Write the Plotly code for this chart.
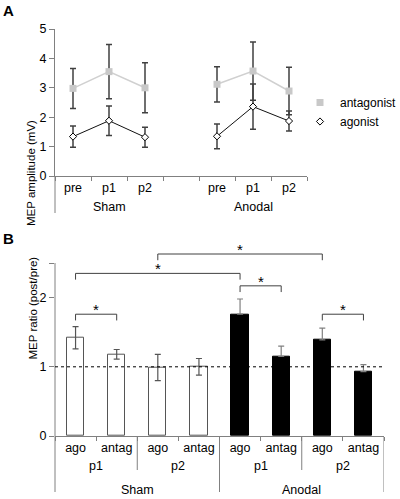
import plotly.graph_objects as go

# ---------------- data ----------------
# Panel A
a_time = ["pre", "p1", "p2"]
a_groups = ["Sham", "Anodal"]
antag_sham = [2.98, 3.55, 3.00]
antag_sham_err = [0.68, 0.92, 0.85]
antag_anod = [3.12, 3.57, 2.89]
antag_anod_err = [0.60, 0.99, 0.81]
ago_sham = [1.34, 1.88, 1.32]
ago_sham_err = [0.36, 0.50, 0.34]
ago_anod = [1.35, 2.36, 1.87]
ago_anod_err = [0.42, 0.77, 0.34]

# Panel B
b_muscle = ["ago", "antag"]
b_time = ["p1", "p2"]
b_groups = ["Sham", "Anodal"]
ratio_sham = [1.42, 1.18, 0.99, 1.00]
ratio_sham_err = [0.16, 0.07, 0.19, 0.12]
ratio_anod = [1.76, 1.15, 1.39, 0.93]
ratio_anod_err = [0.22, 0.15, 0.17, 0.10]

# significance brackets (bar index left, bar index right, height)
sig_left = [0, 0, 2, 4, 6]
sig_right = [1, 4, 6, 5, 7]
sig_height = [1.76, 2.35, 2.63, 2.17, 1.76]

W, H = 400, 499
FONT = "Liberation Sans, Arial, sans-serif"
AXC = "#808080"


def px(x):
    return x / W


def py(y):
    return 1 - y / H


fig = go.Figure()

SQ = dict(symbol="square", size=7, color="#c8c8c8")
DM = dict(symbol="diamond", size=5.5, color="white", line=dict(color="black", width=1))

# ---------------- Panel A ----------------
xs_sham = [0, 1, 2]
xs_anod = [4, 5, 6]
for xs, ys, es in [(xs_sham, antag_sham, antag_sham_err), (xs_anod, antag_anod, antag_anod_err)]:
    fig.add_trace(go.Scatter(
        x=xs, y=ys, mode="lines+markers", showlegend=False,
        line=dict(color="#d0d0d0", width=1.5), marker=SQ,
        error_y=dict(type="data", array=es, color="#404040", thickness=1.5, width=3),
        xaxis="x", yaxis="y"))
for xs, ys, es in [(xs_sham, ago_sham, ago_sham_err), (xs_anod, ago_anod, ago_anod_err)]:
    fig.add_trace(go.Scatter(
        x=xs, y=ys, mode="lines+markers", showlegend=False,
        line=dict(color="#111111", width=1), marker=DM,
        error_y=dict(type="data", array=es, color="#404040", thickness=1.5, width=3),
        xaxis="x", yaxis="y"))

# legend-only entries
fig.add_trace(go.Scatter(x=[None], y=[None], mode="markers", name="antagonist",
                         marker=SQ, xaxis="x", yaxis="y"))
fig.add_trace(go.Scatter(x=[None], y=[None], mode="markers", name="agonist",
                         marker=DM, xaxis="x", yaxis="y"))

# ---------------- Panel B ----------------
bx_sham = [0, 1, 2, 3]
bx_anod = [4, 5, 6, 7]
fig.add_trace(go.Bar(
    x=bx_sham, y=ratio_sham, width=0.42, showlegend=False,
    marker=dict(color="white", line=dict(color="#555555", width=1)),
    error_y=dict(type="data", array=ratio_sham_err, color="#555555", thickness=1.2, width=3),
    xaxis="x2", yaxis="y2"))
fig.add_trace(go.Bar(
    x=bx_anod, y=ratio_anod, width=0.42, showlegend=False,
    marker=dict(color="black", line=dict(color="black", width=1)),
    error_y=dict(type="data", symmetric=False, array=ratio_anod_err,
                 arrayminus=[0] * len(ratio_anod), color="#808080", thickness=1.2, width=3),
    xaxis="x2", yaxis="y2"))

leg = 0.09
for l, r, h in zip(sig_left, sig_right, sig_height):
    fig.add_trace(go.Scatter(
        x=[l, l, r, r], y=[h - leg, h, h, h - leg], mode="lines", showlegend=False,
        line=dict(color="#404040", width=1), xaxis="x2", yaxis="y2", hoverinfo="skip"))
    fig.add_annotation(x=(l + r) / 2, y=h, xref="x2", yref="y2", text="*",
                       showarrow=False, yanchor="bottom", yshift=-6,
                       font=dict(size=15, color="black", family=FONT))

# ---------------- layout ----------------
A_top, A_bot = 29, 176
B_zero, B_one = 436, 366.8
B_unit = B_zero - B_one
B_rmax = 2.75
B_top = B_zero - B_rmax * B_unit

fig.update_layout(
    width=W, height=H, margin=dict(l=0, r=0, t=0, b=0, autoexpand=False),
    paper_bgcolor="white", plot_bgcolor="white",
    font=dict(family=FONT, size=12.5, color="black"),
    bargap=0,
    legend=dict(x=px(300), y=py(88), xanchor="left", yanchor="top",
                xref="container", yref="container",
                font=dict(size=12), itemwidth=30, tracegroupgap=0,
                bgcolor="rgba(0,0,0,0)"),
    xaxis=dict(domain=[px(55), px(307)], range=[-0.5, 6.5],
               tickvals=xs_sham + xs_anod, ticktext=a_time + a_time,
               ticks="", showline=True, linecolor=AXC, linewidth=1,
               showgrid=False, zeroline=False, automargin=False,
               minor=dict(tick0=0.5, dtick=1, ticks="outside", ticklen=4, tickcolor=AXC),
               anchor="y"),
    yaxis=dict(domain=[py(A_bot), py(A_top)], range=[0, 5], tickvals=[0, 1, 2, 3, 4, 5],
               ticks="outside", ticklen=5, tickcolor=AXC, showline=True, linecolor=AXC,
               showgrid=False, zeroline=False, anchor="x", automargin=False),
    xaxis2=dict(domain=[px(55), px(384)], range=[-0.5, 7.5],
                tickvals=bx_sham + bx_anod, ticktext=b_muscle * 4,
                ticks="", showline=True, linecolor=AXC, linewidth=1,
                showgrid=False, zeroline=False, automargin=False,
                minor=dict(tick0=0.5, dtick=1, ticks="outside", ticklen=4, tickcolor=AXC),
                anchor="y2"),
    yaxis2=dict(domain=[py(B_zero), py(B_top)], range=[0, B_rmax],
                tickvals=[0, 1, 2, 2.5], ticktext=["0", "1", "2", ""],
                ticks="outside", ticklen=5, tickcolor=AXC, showline=False,
                showgrid=False, zeroline=False, anchor="x2", automargin=False),
)

# axis decorations panel A
fig.add_shape(type="line", xref="paper", yref="paper", x0=px(55), x1=px(55),
              y0=py(A_bot), y1=py(213), line=dict(color=AXC, width=1))
for i, g in enumerate(a_groups):
    fig.add_annotation(x=(xs_sham, xs_anod)[i][1], y=py(207), xref="x", yref="paper",
                       text=g, showarrow=False, yanchor="middle",
                       font=dict(size=12.5))

# axis decorations panel B
fig.add_shape(type="line", xref="paper", yref="paper", x0=px(55), x1=px(55),
              y0=py(492), y1=py(B_zero - 2.5 * B_unit), line=dict(color=AXC, width=1))
fig.add_shape(type="line", xref="x2 domain", yref="y2", x0=0, x1=1, y0=1, y1=1,
              line=dict(color="black", width=1, dash="dot"))
for xv in [3.5, 7.5]:
    fig.add_shape(type="line", xref="x2", yref="paper", x0=xv, x1=xv,
                  y0=py(B_zero), y1=py(492), line=dict(color=AXC, width=1))
for xv in [1.5, 5.5]:
    fig.add_shape(type="line", xref="x2", yref="paper", x0=xv, x1=xv,
                  y0=py(B_zero), y1=py(470), line=dict(color=AXC, width=1))
for k, t in enumerate(b_time * 2):
    fig.add_annotation(x=0.5 + 2 * k, y=py(466), xref="x2", yref="paper", text=t,
                       showarrow=False, yanchor="middle", font=dict(size=12.5))
for k, g in enumerate(b_groups):
    fig.add_annotation(x=1.5 + 4 * k, y=py(490), xref="x2", yref="paper", text=g,
                       showarrow=False, yanchor="middle", font=dict(size=12.5))

# titles and panel letters
fig.add_annotation(x=px(23), y=py(118), xref="paper", yref="paper",
                   text="MEP amplitude (mV)", textangle=-90, showarrow=False,
                   font=dict(size=11.5))
fig.add_annotation(x=px(24), y=py(362), xref="paper", yref="paper",
                   text="MEP ratio (post/pre)", textangle=-90, showarrow=False,
                   font=dict(size=11.5))
fig.add_annotation(x=px(1), y=py(10), xref="paper", yref="paper", text="<b>A</b>",
                   showarrow=False, xanchor="left", yanchor="middle", font=dict(size=15))
fig.add_annotation(x=px(1), y=py(239), xref="paper", yref="paper", text="<b>B</b>",
                   showarrow=False, xanchor="left", yanchor="middle", font=dict(size=15))

fig.write_html("out.html", config={"displayModeBar": False},
               post_script="document.body.style.margin='0';")
